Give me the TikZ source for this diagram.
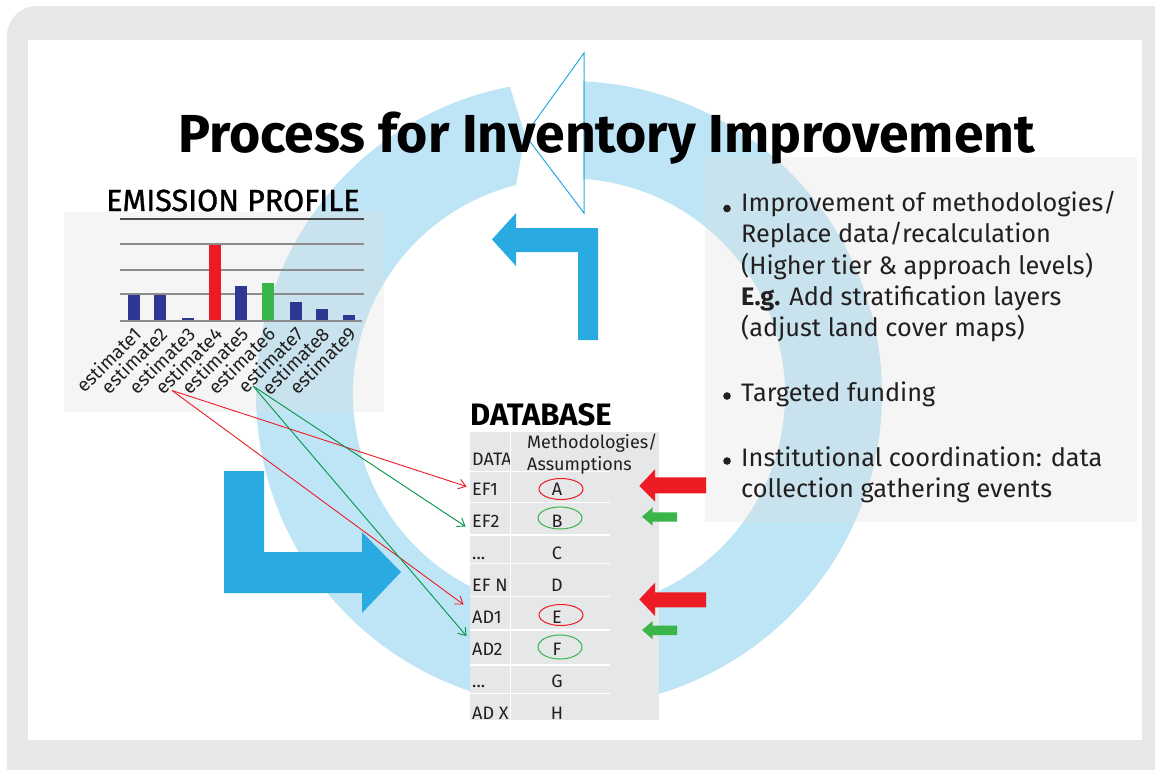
\documentclass[tikz,border=0pt]{standalone}
\usepackage{fontspec}
\setmainfont{Fira Sans}
\newfontfamily\medfont{Fira Sans}[FakeBold=1.2]
\usetikzlibrary{arrows.meta,calc}
\definecolor{framegray}{HTML}{E6E7E8}
\definecolor{ringblue}{HTML}{BEE5F6}
\definecolor{darkblue}{HTML}{29ABE2}
\definecolor{barnavy}{HTML}{2E3791}
\definecolor{barred}{HTML}{ED1C24}
\definecolor{bargreen}{HTML}{39B54A}
\definecolor{linegreen}{HTML}{009444}
\definecolor{panelgray}{HTML}{E0E0E0}
\definecolor{textblack}{HTML}{231F20}
\tikzset{
  panel/.style={fill=panelgray, fill opacity=0.32},
  bodytext/.style={anchor=base west, inner sep=0pt, text=textblack, font=\fontsize{25.3}{28}\selectfont},
  rowtext/.style={anchor=base west, inner sep=0pt, text=textblack, font=\fontsize{18}{20}\selectfont},
  lettertext/.style={anchor=base, inner sep=0pt, text=textblack, font=\fontsize{18}{20}\selectfont},
  esttext/.style={rotate=45, anchor=north east, inner sep=0pt, text=textblack, font=\fontsize{19}{20}\selectfont},
  gridline/.style={draw=gray!90, line width=1.3pt},
  redlink/.style={draw=barred, line width=0.9pt, -{Straight Barb[length=7pt,width=10pt]}},
  greenlink/.style={draw=linegreen, line width=0.9pt, -{Straight Barb[length=7pt,width=10pt]}},
  rowline/.style={draw=white, line width=1.4pt}
}
\begin{document}
\begin{tikzpicture}[x=1pt,y=-1pt]
\useasboundingbox (0,0) rectangle (1155,769);
% frame
\fill[white] (0,0) rectangle (1155,769);
\fill[framegray, rounded corners=30pt] (7,6) rectangle (1190,800);
\fill[white] (28,40) rectangle (1142,740);
% ring
\fill[ringblue] ($(569,394)+(-87.4:313)$) arc[start angle=-87.4, end angle=259.1, radius=313]
  -- (525,135) -- (516,185) arc[start angle=255.8, end angle=-86.3, radius=216] -- cycle;
\draw[darkblue, line width=1pt, line join=miter] (584,53) -- (525,135) -- (584,213) -- cycle;
% blue L arrows
\fill[darkblue] (598,340) -- (598,228) -- (516,228) -- (516,213) -- (492,239.5) -- (516,266)
  -- (516,252) -- (578,252) -- (578,340) -- cycle;
\fill[darkblue] (224,471) -- (264,471) -- (264,552) -- (362,552) -- (362,532) -- (401,572)
  -- (362,613) -- (362,593) -- (224,593) -- cycle;
% translucent panels
\fill[panel] (64,212) rectangle (384,412);
\fill[panel] (705,157) rectangle (1137,522);
% title
\node[anchor=base west, inner sep=0pt, font=\fontsize{53.5}{58}\selectfont\bfseries] (title) at (178,152) {Process for Inventory Improvement};
% emission profile
\node[anchor=base west, inner sep=0pt, text=black, font=\fontsize{30.5}{34}\medfont] (eptitle) at (106,211) {EMISSION PROFILE};
\draw[draw=black!70, line width=2pt] (120,219) -- (364,219);
\foreach \yy in {244,270,294} \draw[gridline] (120,\yy) -- (364,\yy);
\fill[barnavy] (128,295) rectangle (140,321);
\fill[barnavy] (154,295) rectangle (166,321);
\fill[barnavy] (182,317.5) rectangle (194,321);
\fill[barred] (209,245) rectangle (221,321);
\fill[barnavy] (235,286) rectangle (247,321);
\fill[bargreen] (262,283) rectangle (274,321);
\fill[barnavy] (290,302) rectangle (302,321);
\fill[barnavy] (316,309) rectangle (328,321);
\fill[barnavy] (343,315) rectangle (355,321);
\draw[gridline] (120,321) -- (362,321);
\foreach \n/\cx in {1/134,2/160,3/188,4/215,5/241,6/268,7/296,8/322,9/349}
  \node[esttext] (est\n) at (\cx-2,325) {estimate\n};
% database
\node[anchor=base west, inner sep=0pt, text=black, font=\fontsize{31}{34}\selectfont\bfseries] (dbtitle) at (470,425) {DATABASE};
\fill[framegray] (470,432) rectangle (659,720);
\foreach \yy in {471.7,502.3,535,563.3,596.7,630,665,693.3} \draw[rowline] (470,\yy) -- (610,\yy);
\begin{scope}
\clip (468,432) rectangle (510,720);
\node[rowtext] (data) at (472,465) {DATA};
\node[rowtext] (ef1) at (472,495) {EF1};
\node[rowtext] (ef2) at (472,527) {EF2};
\node[rowtext] (dots1) at (472,559) {...};
\node[rowtext] (efn) at (472,591) {EF N};
\node[rowtext] (ad1) at (472,623) {AD1};
\node[rowtext] (ad2) at (472,655) {AD2};
\node[rowtext] (dots2) at (472,687) {...};
\node[rowtext] (adx) at (472,719) {AD X};
\end{scope}
\draw[draw=white, line width=1.4pt] (510.5,432) -- (510.5,720);
\node[rowtext] (meth) at (527,448) {Methodologies/};
\node[rowtext] (assum) at (527,470.5) {Assumptions};
\foreach \L/\yy in {A/495,B/527,C/559,D/591,E/623,F/655,G/687,H/719}
  \node[lettertext] (let\L) at (557,\yy) {\L};
\draw[barred, line width=1pt] (561,489) ellipse[x radius=22, y radius=10.5];
\draw[bargreen, line width=1pt] (560,518) ellipse[x radius=22, y radius=11];
\draw[barred, line width=1pt] (561,615) ellipse[x radius=22, y radius=10.5];
\draw[bargreen, line width=1pt] (560,647) ellipse[x radius=22, y radius=12];
% red / green block arrows
\fill[barred] (706,477.3) -- (655,477.3) -- (655,469.3) -- (639.3,486) -- (655,501.7) -- (655,493.3) -- (706,493.3) -- cycle;
\fill[barred] (706,592.3) -- (655,592.3) -- (655,582.7) -- (639.3,599.3) -- (655,616) -- (655,607.3) -- (706,607.3) -- cycle;
\fill[bargreen] (677,512.3) -- (652.7,512.3) -- (652.7,507.3) -- (642,516.7) -- (652.7,525.7) -- (652.7,521.7) -- (677,521.7) -- cycle;
\fill[bargreen] (677,625.7) -- (652.7,625.7) -- (652.7,621) -- (642,630) -- (652.7,639.3) -- (652.7,635) -- (677,635) -- cycle;
% links
\coordinate (r0) at (172,390.5);
\coordinate (g0) at (253,386);
\coordinate (t1) at (466.5,486.5);
\coordinate (t2) at (465.5,526.5);
\coordinate (t3) at (463.5,604.5);
\coordinate (t4) at (466.5,636);
\draw[redlink] (r0) -- (t1);
\draw[redlink] (r0) -- (t3);
\draw[greenlink] (g0) -- (t2);
\draw[greenlink] (g0) -- (t4);
% bullet text
\fill[textblack] (727,208.5) circle[radius=3.8];
\fill[textblack] (727,396) circle[radius=3.8];
\fill[textblack] (727,461) circle[radius=3.8];
\node[bodytext] (b1l1) at (741,211.7) {Improvement of methodologies/};
\node[bodytext] (b1l2) at (741,242.9) {Replace data/recalculation};
\node[bodytext] (b1l3) at (741,274.1) {(Higher tier \& approach levels)};
\node[bodytext] (b1l4) at (741,305.3) {\textbf{E.g.} Add stratification layers};
\node[bodytext] (b1l5) at (741,336.5) {(adjust land cover maps)};
\node[bodytext] (b2) at (741,401) {Targeted funding};
\node[bodytext] (b3l1) at (741,466) {Institutional coordination: data};
\node[bodytext] (b3l2) at (741,497.5) {collection gathering events};
\end{tikzpicture}
\end{document}
